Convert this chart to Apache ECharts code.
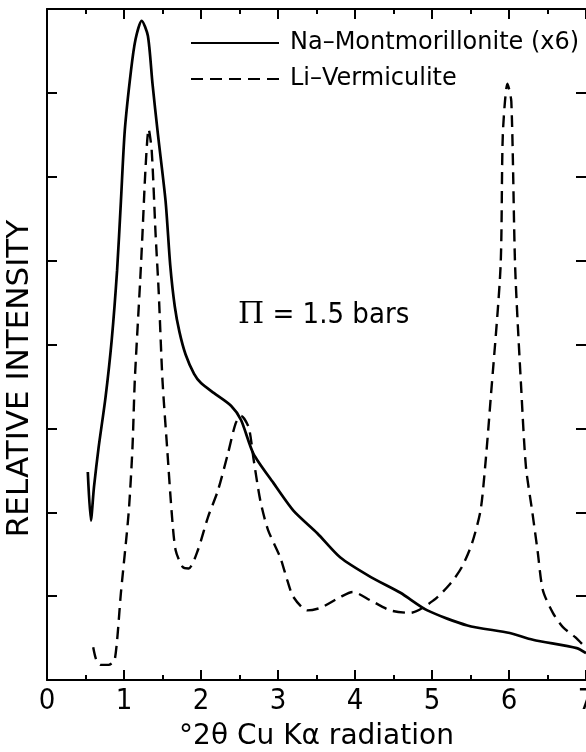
<!DOCTYPE html>
<html>
<head>
<meta charset="utf-8">
<script src="https://cdn.jsdelivr.net/npm/echarts@6/dist/echarts.min.js"></script>
<style>
html,body{margin:0;padding:0;background:#fff;}
#chart{width:586px;height:752px;}
</style>
</head>
<body>
<div id="chart"></div>
<script>
// x tick labels (degrees 2-theta)
var xTickLabels = ['0','1','2','3','4','5','6','7'];

// Na-Montmorillonite (x6) — solid line
var naTheta = [0.53,0.57,0.61,0.67,0.76,0.84,0.91,0.96,1.01,1.09,1.15,1.23,1.31,1.37,1.44,1.54,1.60,1.66,1.72,1.80,1.91,2.00,2.17,2.39,2.52,2.68,2.94,3.20,3.51,3.81,4.20,4.59,4.94,5.46,6.01,6.31,6.88,7.00];
var naIntensity = [2.48,1.90,2.30,2.77,3.37,4.05,4.88,5.71,6.55,7.26,7.64,7.86,7.68,7.11,6.51,5.71,4.95,4.45,4.15,3.88,3.65,3.54,3.42,3.27,3.10,2.70,2.35,2.02,1.75,1.46,1.23,1.04,0.83,0.65,0.56,0.48,0.38,0.32];

// Li-Vermiculite — dashed line
var liTheta = [0.60,0.64,0.70,0.80,0.88,0.96,1.06,1.11,1.14,1.21,1.24,1.28,1.32,1.36,1.41,1.45,1.50,1.56,1.62,1.67,1.76,1.84,1.96,2.09,2.22,2.35,2.45,2.52,2.62,2.68,2.77,2.87,3.03,3.12,3.20,3.38,3.55,3.81,3.97,4.20,4.46,4.72,5.02,5.24,5.39,5.52,5.63,5.69,5.76,5.89,5.92,5.98,6.03,6.08,6.16,6.22,6.30,6.37,6.44,6.57,6.70,6.86,6.99];
var liIntensity = [0.39,0.24,0.18,0.18,0.24,1.04,1.99,2.77,3.57,4.76,5.32,6.11,6.57,6.31,5.32,4.64,3.57,2.77,1.99,1.55,1.35,1.33,1.55,1.94,2.26,2.70,3.06,3.15,3.01,2.65,2.14,1.79,1.46,1.19,0.99,0.83,0.86,0.99,1.05,0.95,0.83,0.80,0.95,1.15,1.35,1.63,2.02,2.54,3.33,4.92,6.51,7.11,6.90,4.92,3.45,2.54,2.02,1.55,1.07,0.80,0.63,0.51,0.39];

var seriesNames = ['Na\u2013Montmorillonite (x6)', 'Li\u2013Vermiculite'];
var xAxisTitle = '\u00B02\u03B8 Cu K\u03B1 radiation';
var yAxisTitle = 'RELATIVE INTENSITY';
var annotationSymbol = '\u03A0';
var annotationText = ' = 1.5 bars';

function pairs(xs, ys){ return xs.map(function(x,i){ return [x, ys[i]]; }); }

var COND = '"DejaVu Sans Condensed", "DejaVu Sans", sans-serif';
var SANS = '"DejaVu Sans", sans-serif';
var chart = echarts.init(document.getElementById('chart'), null, {renderer:'canvas'});

var axisLine = {show:true, onZero:false, lineStyle:{color:'#000', width:2}};
var tick = {show:true, inside:true, length:10, lineStyle:{color:'#000', width:2}};
var minor = {show:true, splitNumber:2, length:5, lineStyle:{color:'#000', width:2}};
chart.setOption({
  animation:false,
  backgroundColor:'#fff',
  grid:{left:47, right:0, top:9, bottom:72, outerBoundsMode:'none', containLabel:false},
  legend:{
    orient:'vertical', left:190, top:30, padding:0,
    itemWidth:88, itemHeight:4, itemGap:10,
    itemStyle:{opacity:0},
    textStyle:{fontFamily:SANS, fontSize:24, lineHeight:26, color:'#000', padding:[0,0,0,6]},
    data:seriesNames
  },
  xAxis:[{
    type:'value', min:0, max:7, interval:1, position:'bottom',
    axisLine:axisLine, axisTick:tick, minorTick:minor,
    splitLine:{show:false}, minorSplitLine:{show:false},
    axisLabel:{show:true, margin:7, fontFamily:COND, fontSize:29, color:'#000',
      formatter:function(v){ return xTickLabels[Math.round(v)]; }, showMaxLabel:true, showMinLabel:true},
    name:xAxisTitle, nameLocation:'middle', nameGap:43,
    nameTextStyle:{fontFamily:SANS, fontSize:28, color:'#000'}
  },{
    type:'value', min:0, max:7, interval:1, position:'top',
    axisLine:axisLine, axisTick:tick, minorTick:minor,
    splitLine:{show:false}, axisLabel:{show:false}
  }],
  yAxis:[{
    type:'value', min:0, max:8, interval:1, position:'left',
    axisLine:axisLine, axisTick:tick,
    splitLine:{show:false}, axisLabel:{show:false},
    name:yAxisTitle, nameLocation:'middle', nameGap:12, nameRotate:90,
    nameTextStyle:{fontFamily:SANS, fontSize:31, color:'#000', padding:[0,68,0,0]}
  },{
    type:'value', min:0, max:8, interval:1, position:'right',
    axisLine:{show:false, onZero:false}, axisTick:tick,
    splitLine:{show:false}, axisLabel:{show:false}
  }],
  graphic:[{
    type:'text', left:238, top:300,
    style:{
      text:'{p|' + annotationSymbol + '}' + annotationText,
      fontFamily:COND, fontSize:29, fill:'#000',
      rich:{p:{fontFamily:'"DejaVu Serif", serif', fontSize:30, fill:'#000'}}
    }
  }],
  series:[{
    name:seriesNames[0], type:'line', data:pairs(naTheta, naIntensity),
    symbol:'none', smooth:0.25, xAxisIndex:0, yAxisIndex:0,
    lineStyle:{color:'#000', width:2.7, type:'solid'}, itemStyle:{color:'#000', opacity:0}
  },{
    name:seriesNames[1], type:'line', data:pairs(liTheta, liIntensity),
    symbol:'none', smooth:0.25, xAxisIndex:0, yAxisIndex:0,
    lineStyle:{color:'#000', width:2.4, type:[12,7]}, itemStyle:{color:'#000', opacity:0}
  }]
});
</script>
</body>
</html>
